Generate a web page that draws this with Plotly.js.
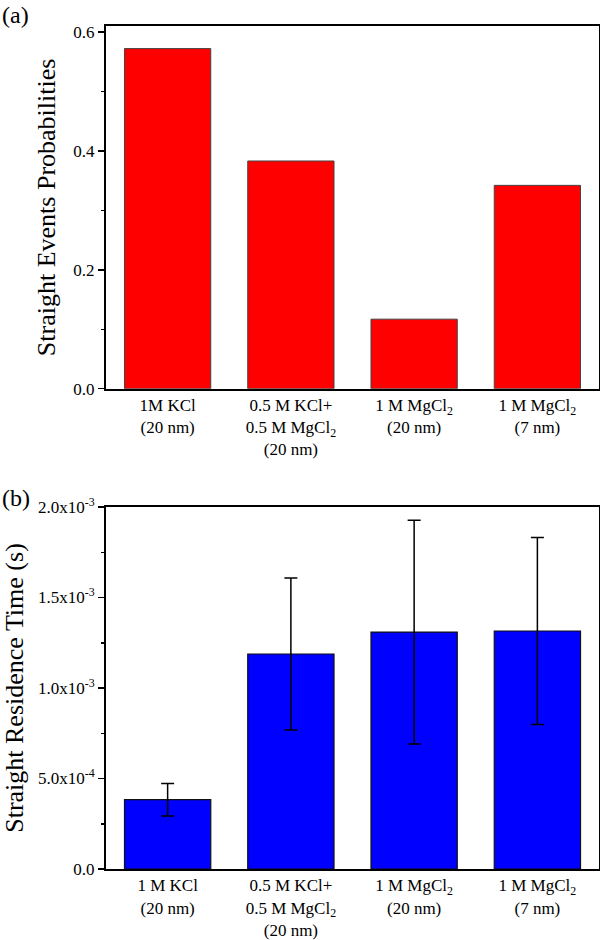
<!DOCTYPE html>
<html>
<head>
<meta charset="utf-8">
<script src="https://cdn.plot.ly/plotly-3.0.1.min.js"></script>
<style>
  html, body { margin: 0; padding: 0; background: #fff; }
  #chart { width: 600px; height: 940px; }
</style>
</head>
<body>
<div id="chart"></div>
<script>
// (a) straight events probabilities
const catsA = ["1M KCl<br>(20 nm)", "0.5 M KCl+<br>0.5 M MgCl<sub>2</sub><br>(20 nm)", "1 M MgCl<sub>2</sub><br>(20 nm)", "1 M MgCl<sub>2</sub><br>(7 nm)"];
const probA = [0.572, 0.383, 0.117, 0.342];

// (b) straight residence time (s)
const catsB = ["1 M KCl<br>(20 nm)", "0.5 M KCl+<br>0.5 M MgCl<sub>2</sub><br>(20 nm)", "1 M MgCl<sub>2</sub><br>(20 nm)", "1 M MgCl<sub>2</sub><br>(7 nm)"];
const timeB = [3.83e-4, 1.188e-3, 1.309e-3, 1.315e-3];
const errB = [0.9e-4, 0.42e-3, 0.618e-3, 0.516e-3];

const tickValsB = [0, 5e-4, 1e-3, 1.5e-3, 2e-3];
const tickTextB = ["0.0", "5.0x10<sup>-4</sup>", "1.0x10<sup>-3</sup>", "1.5x10<sup>-3</sup>", "2.0x10<sup>-3</sup>"];

const serif = "Liberation Serif";

const traces = [
  {
    type: "bar", x: catsA, y: probA, xaxis: "x", yaxis: "y",
    width: 0.7,
    marker: { color: "#ff0000", line: { color: "#444", width: 1 } },
    hoverinfo: "skip",
  },
  {
    type: "bar", x: catsB, y: timeB, xaxis: "x2", yaxis: "y2",
    width: 0.7,
    marker: { color: "#0000ff", line: { color: "#111", width: 1.2 } },
    error_y: { type: "data", array: errB, visible: true, color: "#000", thickness: 1.5, width: 6.5 },
    hoverinfo: "skip",
  },
];

function xAxis(domainAnchor) {
  return {
    domain: [0, 1], anchor: domainAnchor,
    range: [-0.5, 3.5], type: "category",
    showline: true, linecolor: "#000", linewidth: 2, mirror: true,
    ticks: "", showgrid: false, zeroline: false,
    tickfont: { family: serif, size: 17, color: "#000" },
    automargin: false,
  };
}

const yBase = {
  showline: true, linecolor: "#000", linewidth: 2, mirror: true,
  ticks: "outside", ticklen: 6, tickwidth: 1.5, tickcolor: "#000",
  showgrid: false, zeroline: false,
  tickfont: { family: serif, size: 17, color: "#000" },
  automargin: false,
};

const layout = {
  width: 600, height: 940,
  margin: { l: 106, r: 1, t: 26, b: 71 },
  paper_bgcolor: "#fff", plot_bgcolor: "#fff",
  showlegend: false,
  bargap: 0.3,
  xaxis: xAxis("y"),
  xaxis2: xAxis("y2"),
  yaxis: Object.assign({}, yBase, {
    domain: [0.5697, 1], anchor: "x",
    range: [0, 0.61], tickvals: [0, 0.2, 0.4, 0.6], ticktext: ["0.0", "0.2", "0.4", "0.6"],
    minor: { tickvals: [0.1, 0.3, 0.5], ticks: "outside", ticklen: 3, tickwidth: 1.5, tickcolor: "#000" },
    title: { text: "Straight Events Probabilities", font: { family: serif, size: 26, color: "#000" }, standoff: 10 },
  }),
  yaxis2: Object.assign({}, yBase, {
    domain: [0, 0.4294], anchor: "x2",
    range: [0, 2e-3], tickvals: tickValsB, ticktext: tickTextB,
    minor: { tickvals: [2.5e-4, 7.5e-4, 1.25e-3, 1.75e-3], ticks: "outside", ticklen: 3, tickwidth: 1.5, tickcolor: "#000" },
    title: { text: "Straight Residence Time (s)", font: { family: serif, size: 26, color: "#000" }, standoff: 7 },
  }),
  annotations: [
    { text: "(a)", xref: "paper", yref: "paper", x: -106 / 493, y: 1.013, xanchor: "left", yanchor: "middle",
      showarrow: false, font: { family: serif, size: 24, color: "#000" } },
    { text: "(b)", xref: "paper", yref: "paper", x: -106 / 493, y: (869 - 498) / 843, xanchor: "left", yanchor: "middle",
      showarrow: false, font: { family: serif, size: 24, color: "#000" } },
  ],
};

Plotly.newPlot("chart", traces, layout, { staticPlot: true, displayModeBar: false });
</script>
</body>
</html>
